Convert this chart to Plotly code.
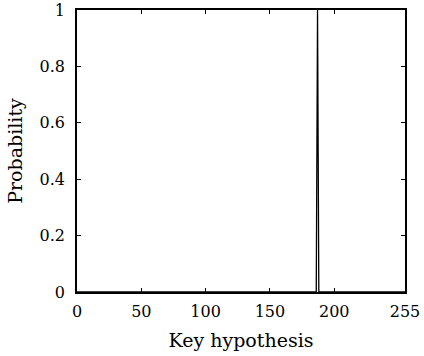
import plotly.graph_objects as go

key_hypotheses = list(range(256))
probabilities = [0.0] * 187 + [1.0] + [0.0] * 68
x_ticks = [0, 50, 100, 150, 200, 255]
y_ticks = [0, 0.2, 0.4, 0.6, 0.8, 1]
y_tick_labels = ["0", "0.2", "0.4", "0.6", "0.8", "1"]

font = dict(family="DejaVu Serif", size=16, color="black")

fig = go.Figure(go.Scatter(x=key_hypotheses, y=probabilities, mode="lines",
                           line=dict(color="black", width=1.3), showlegend=False))

fig.update_layout(
    width=424, height=356,
    margin=dict(l=77, r=19, t=10, b=64),
    plot_bgcolor="white", paper_bgcolor="white",
    font=font,
)
fig.update_xaxes(range=[0, 255], tickvals=x_ticks, ticks="inside", ticklen=4,
                 tickcolor="black", showgrid=False, zeroline=False,
                 showline=True, linecolor="black", linewidth=1.5, mirror="ticks",
                 ticklabelstandoff=4, automargin=False,
                 title=dict(text="Key hypothesis", standoff=14), tickfont=font)
fig.update_yaxes(range=[0, 1], tickvals=y_ticks, ticktext=y_tick_labels,
                 ticks="inside", ticklen=4, tickcolor="black", showgrid=False,
                 zeroline=False, showline=True, linecolor="black", linewidth=1.5,
                 mirror="ticks", ticklabelstandoff=7, automargin=False,
                 title=dict(text="Probability", standoff=12), tickfont=font)

fig.write_html("out.html")
